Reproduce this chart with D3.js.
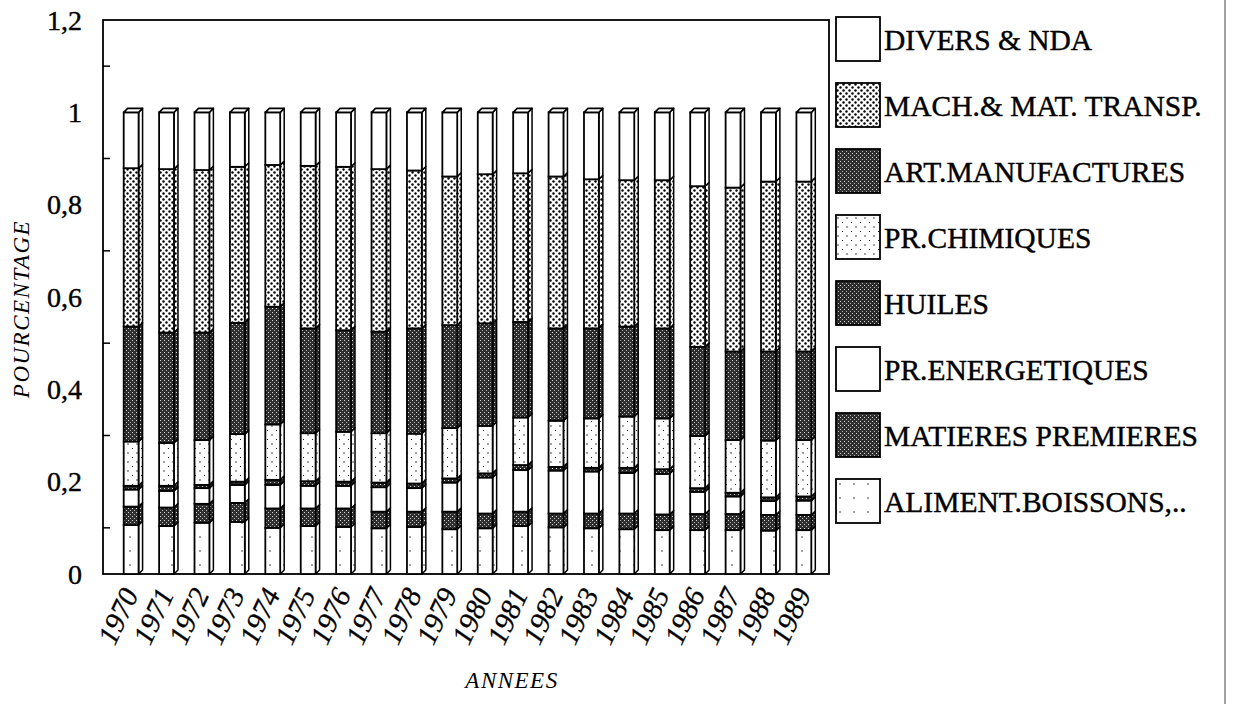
<!DOCTYPE html>
<html>
<head>
<meta charset="utf-8">
<script src="https://cdn.jsdelivr.net/npm/d3@7"></script>
<style>
  html, body { margin: 0; padding: 0; background: #fff; }
  svg { display: block; }
</style>
</head>
<body>
<svg id="chart" width="1233" height="704"></svg>
<script>
// ---------- DATA ----------
const years = ["1970","1971","1972","1973","1974","1975","1976","1977","1978","1979",
               "1980","1981","1982","1983","1984","1985","1986","1987","1988","1989"];
const seriesNames = ["ALIMENT.BOISSONS,..","MATIERES PREMIERES","PR.ENERGETIQUES","HUILES",
                     "PR.CHIMIQUES","ART.MANUFACTURES","MACH.& MAT. TRANSP.","DIVERS & NDA"];
const aliment  = [.106,.104,.111,.113,.100,.104,.102,.099,.102,.097,.099,.104,.101,.099,.097,.095,.095,.095,.094,.095];
const matieres = [.040,.040,.041,.041,.042,.038,.040,.036,.033,.038,.032,.031,.030,.032,.034,.034,.035,.035,.034,.033];
const energ    = [.037,.036,.034,.039,.051,.049,.049,.053,.051,.063,.078,.090,.093,.091,.088,.088,.048,.038,.030,.031];
const huiles   = [.008,.011,.007,.007,.011,.010,.009,.010,.010,.009,.009,.011,.008,.008,.011,.010,.008,.008,.008,.009];
const chim     = [.096,.093,.097,.103,.120,.104,.108,.107,.108,.109,.103,.103,.100,.107,.111,.110,.113,.114,.123,.122];
const art      = [.249,.239,.233,.241,.255,.227,.220,.220,.228,.223,.222,.207,.200,.195,.195,.195,.193,.192,.193,.192];
const mach     = [.343,.354,.352,.338,.307,.352,.354,.352,.342,.322,.323,.322,.329,.323,.317,.321,.348,.355,.368,.368];
const divers   = [.121,.123,.125,.118,.114,.116,.118,.123,.126,.139,.134,.132,.139,.145,.147,.147,.160,.163,.150,.150];
const seriesValues = [aliment, matieres, energ, huiles, chim, art, mach, divers];
const yTickLabels = ["0","0,2","0,4","0,6","0,8","1","1,2"];
const yTickValues = [0,0.2,0.4,0.6,0.8,1,1.2];
const yMinorTicks = [0.1,0.3,0.5,0.7,0.9,1.1];

// ---------- LAYOUT ----------
const svg = d3.select("#chart");
const plot = {left: 103, right: 829, top: 20, bottom: 574};
const depth = 4;
const serif = "'Liberation Serif', 'Times New Roman', serif";

const x = d3.scaleBand().domain(years).range([106, 829]).paddingInner(0.58).paddingOuter(0.5);
const y = d3.scaleLinear().domain([0, 1.2]).range([plot.bottom, plot.top]);

// ---------- PATTERNS ----------
const defs = svg.append("defs");
function stipple(id, base) {
  const p = defs.append("pattern").attr("id", id).attr("patternUnits", "userSpaceOnUse")
    .attr("width", 4).attr("height", 4);
  p.append("rect").attr("width", 4).attr("height", 4).attr("fill", base);
  p.append("rect").attr("x", 0).attr("y", 0).attr("width", 1).attr("height", 1).attr("fill", "#ddd");
  p.append("rect").attr("x", 2).attr("y", 2).attr("width", 1).attr("height", 1).attr("fill", "#bbb");
}
stipple("dark1", "#2e2e2e");
stipple("dark2", "#2a2a2a");
stipple("dark3", "#2e2e2e");
(function(){
  const p = defs.append("pattern").attr("id", "dots").attr("patternUnits", "userSpaceOnUse")
    .attr("width", 6).attr("height", 6);
  p.append("rect").attr("width", 6).attr("height", 6).attr("fill", "#fff");
  p.append("circle").attr("cx", 1.5).attr("cy", 1.5).attr("r", 1.2).attr("fill", "#000");
  p.append("circle").attr("cx", 4.5).attr("cy", 4.5).attr("r", 1.2).attr("fill", "#000");
})();
(function(){
  const p = defs.append("pattern").attr("id", "sparse").attr("patternUnits", "userSpaceOnUse")
    .attr("width", 9).attr("height", 9);
  p.append("rect").attr("width", 9).attr("height", 9).attr("fill", "#fff");
  p.append("circle").attr("cx", 2).attr("cy", 3).attr("r", 0.7).attr("fill", "#000");
  p.append("circle").attr("cx", 6.5).attr("cy", 7.5).attr("r", 0.6).attr("fill", "#000");
})();
(function(){
  const p = defs.append("pattern").attr("id", "verysparse").attr("patternUnits", "userSpaceOnUse")
    .attr("width", 14).attr("height", 14);
  p.append("rect").attr("width", 14).attr("height", 14).attr("fill", "#fff");
  p.append("circle").attr("cx", 4).attr("cy", 5).attr("r", 0.7).attr("fill", "#000");
})();
const fills = ["url(#verysparse)", "url(#dark1)", "#fff", "url(#dark2)", "url(#sparse)", "url(#dark3)", "url(#dots)", "#fff"];

// ---------- STACK ----------
const table = years.map((yr, i) => {
  const row = {year: yr};
  seriesNames.forEach((s, k) => row[s] = seriesValues[k][i]);
  return row;
});
const stacked = d3.stack().keys(seriesNames)(table);

// ---------- FRAME ----------
svg.append("rect").attr("x", plot.left).attr("y", plot.top)
  .attr("width", plot.right - plot.left).attr("height", plot.bottom - plot.top)
  .attr("fill", "none").attr("stroke", "#000").attr("stroke-width", 1.8);

// minor ticks (inward)
svg.append("g").selectAll("line").data(yMinorTicks).join("line")
  .attr("x1", plot.left).attr("x2", plot.left + 7)
  .attr("y1", d => y(d)).attr("y2", d => y(d))
  .attr("stroke", "#000").attr("stroke-width", 1.5);

// y labels
svg.append("g").selectAll("text").data(yTickValues).join("text")
  .attr("x", 82).attr("y", d => y(d)).attr("dy", "0.35em")
  .attr("text-anchor", "end")
  .attr("font-family", serif).attr("font-size", 28)
  .attr("stroke", "#000").attr("stroke-width", 0.4)
  .text((d, i) => yTickLabels[i]);

// ---------- BARS ----------
const w = x.bandwidth();
const gBars = svg.append("g");
stacked.forEach((layer, k) => {
  const g = gBars.append("g");
  g.selectAll("path.side").data(layer).join("path").attr("class", "side")
    .attr("d", d => {
      const x1 = x(d.data.year) + w, y0 = y(d[0]), y1 = y(d[1]);
      return `M${x1},${y0} L${x1 + depth},${y0 - depth} L${x1 + depth},${y1 - depth} L${x1},${y1} Z`;
    })
    .attr("fill", fills[k]).attr("stroke", "#000").attr("stroke-width", 1.5).attr("stroke-linejoin", "round");
  g.selectAll("rect").data(layer).join("rect")
    .attr("x", d => x(d.data.year)).attr("y", d => y(d[1]))
    .attr("width", w).attr("height", d => y(d[0]) - y(d[1]))
    .attr("fill", fills[k]).attr("stroke", "#000").attr("stroke-width", 1.8);
});
const topLayer = stacked[stacked.length - 1];
gBars.append("g").selectAll("path").data(topLayer).join("path")
  .attr("d", d => {
    const x0 = x(d.data.year), yt = y(d[1]);
    return `M${x0},${yt} L${x0 + depth},${yt - depth} L${x0 + w + depth},${yt - depth} L${x0 + w},${yt} Z`;
  })
  .attr("fill", "#fff").attr("stroke", "#000").attr("stroke-width", 1.6).attr("stroke-linejoin", "round");

// ---------- X LABELS ----------
svg.append("g").selectAll("text").data(years).join("text")
  .attr("transform", d => `translate(${x(d) + w / 2 + 8},${594}) rotate(-65)`)
  .attr("text-anchor", "end")
  .attr("font-family", serif).attr("font-style", "italic").attr("font-size", 29)
  .attr("stroke", "#000").attr("stroke-width", 0.3)
  .text(d => d);

// axis titles
svg.append("text")
  .attr("transform", `translate(29,${(plot.top + plot.bottom) / 2 + 12}) rotate(-90)`)
  .attr("text-anchor", "middle")
  .attr("font-family", serif).attr("font-style", "italic").attr("font-size", 23)
  .attr("letter-spacing", 1.5)
  .text("POURCENTAGE");
svg.append("text")
  .attr("x", 512).attr("y", 688).attr("text-anchor", "middle")
  .attr("font-family", serif).attr("font-style", "italic").attr("font-size", 23)
  .attr("letter-spacing", 1.5)
  .text("ANNEES");

// ---------- LEGEND ----------
const legendOrder = seriesNames.map((s, k) => ({name: s, fill: fills[k]})).reverse();
const lg = svg.append("g").selectAll("g").data(legendOrder).join("g")
  .attr("transform", (d, i) => `translate(836,${17 + i * 66})`);
lg.append("rect").attr("width", 44).attr("height", 44)
  .attr("fill", d => d.fill).attr("stroke", "#000").attr("stroke-width", 1.8);
lg.append("text").attr("x", 48).attr("y", 23).attr("dy", "0.35em")
  .attr("font-family", serif).attr("font-size", 29.5)
  .attr("stroke", "#000").attr("stroke-width", 0.4)
  .attr("textLength", null)
  .text(d => d.name);

// page edge line
svg.append("line").attr("x1", 1225).attr("x2", 1225).attr("y1", 0).attr("y2", 704)
  .attr("stroke", "#666").attr("stroke-width", 1.2);
</script>
</body>
</html>
